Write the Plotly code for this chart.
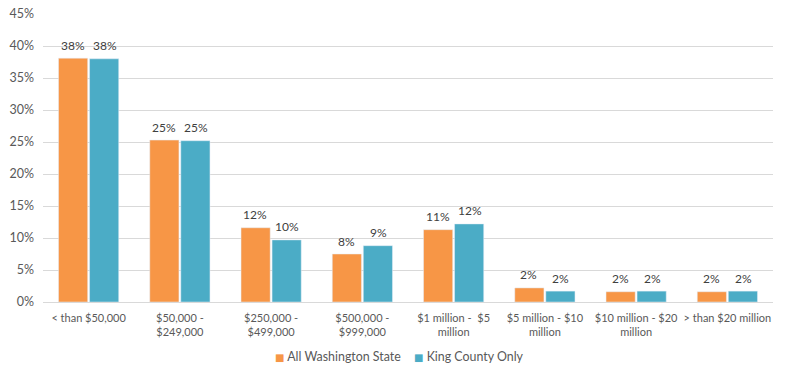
import plotly.graph_objects as go

categories = ["< than $50,000", "$50,000 -<br>$249,000", "$250,000 -<br>$499,000",
              "$500,000 -<br>$999,000", "$1 million -  $5<br>million",
              "$5 million - $10<br>million", "$10 million - $20<br>million",
              "> than $20 million"]
washington = [38.1, 25.3, 11.6, 7.5, 11.3, 2.2, 1.6, 1.6]
king = [38.0, 25.2, 9.7, 8.8, 12.2, 1.7, 1.7, 1.7]
y_ticks = [0, 5, 10, 15, 20, 25, 30, 35, 40, 45]
y_tick_labels = [f"{v}%" for v in y_ticks]
series = [("All Washington State", washington, "#F79646", -16, "legend", 235),
          ("King County Only", king, "#4BACC6", 16, "legend2", 374)]

fig = go.Figure()
for name, vals, color, shift, leg, lx in series:
    fig.add_trace(go.Bar(x=categories, y=vals, name=name, marker_color=color,
                         showlegend=False, hoverinfo="x+y"))
    for c, v in zip(categories, vals):
        fig.add_annotation(x=c, y=v, text=f"{round(v)}%", showarrow=False,
                           xshift=shift, yshift=13, yanchor="middle",
                           font=dict(size=12, color="#404040"))
legend_style = {}
for name, vals, color, shift, leg, lx in series:
    label = f'<span style="color:{color}; font-family:DejaVu Sans; font-size:10px">■</span> {name}'
    fig.add_trace(go.Scatter(x=[None], y=[None], mode="markers", name=label, legend=leg,
                             marker=dict(symbol="square", size=1, color="rgba(0,0,0,0)",
                                         line=dict(width=0))))
    legend_style[leg] = dict(orientation="h", xref="container", x=lx / 787, xanchor="left",
                             yref="container", y=0.046, yanchor="middle",
                             font=dict(size=12.4, color="#595959"), itemwidth=30,
                             bgcolor="rgba(0,0,0,0)")

fig.update_layout(
    width=787, height=374,
    margin=dict(l=43, r=14, t=14, b=72),
    paper_bgcolor="white", plot_bgcolor="white",
    font=dict(family="Lato, Carlito, sans-serif", size=12, color="#595959"),
    barmode="group", bargap=0.32, bargroupgap=0.06,
    showlegend=True,
    **legend_style,
)
fig.update_xaxes(showgrid=False, showline=False, ticks="", automargin=False,
                 tickangle=0, tickfont=dict(size=11), ticklabelstandoff=8)
fig.update_yaxes(range=[0, 45], tickmode="array", tickvals=y_ticks,
                 ticktext=y_tick_labels, automargin=False,
                 gridcolor="#D9D9D9", gridwidth=1, zeroline=True,
                 zerolinecolor="#D9D9D9", zerolinewidth=1, showline=False,
                 ticklabelstandoff=8, tickfont=dict(size=12.5))

fig.write_html("out.html", config={"displayModeBar": False})
with open("out.html", encoding="utf-8") as f:
    html = f.read()
html = html.replace("<body>", '<body style="margin:0;padding:0;">', 1)
with open("out.html", "w", encoding="utf-8") as f:
    f.write(html)
